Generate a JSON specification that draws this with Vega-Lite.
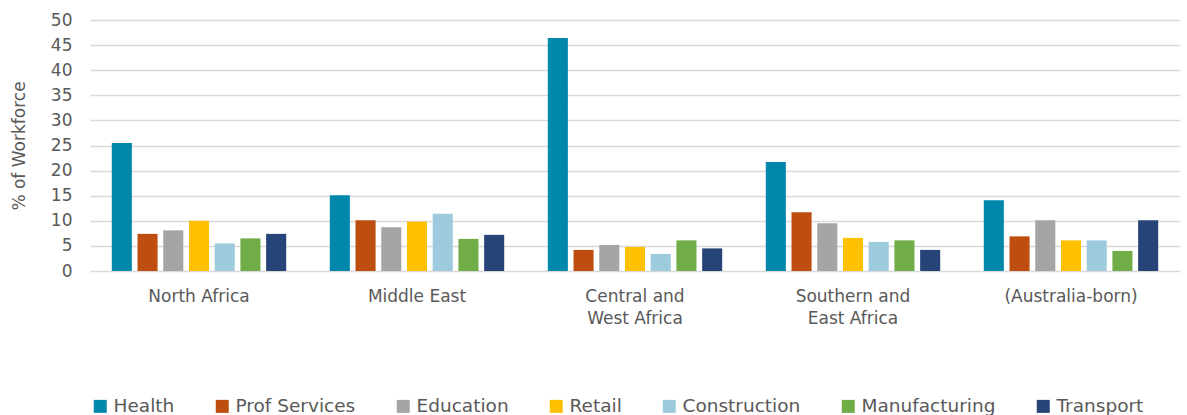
{
  "$schema": "https://vega.github.io/schema/vega-lite/v6.json",
  "width": 1090,
  "height": 251,
  "autosize": {"type": "none"},
  "padding": {"left": 90, "top": 20, "right": 7, "bottom": 144},
  "background": "white",
  "config": {
    "view": {"stroke": null},
    "font": "DejaVu Sans"
  },
  "data": {
    "values": [
      {"region": "North Africa", "industry": "Health", "pct": 25.5},
      {"region": "North Africa", "industry": "Prof Services", "pct": 7.4},
      {"region": "North Africa", "industry": "Education", "pct": 8.1},
      {"region": "North Africa", "industry": "Retail", "pct": 10.0},
      {"region": "North Africa", "industry": "Construction", "pct": 5.5},
      {"region": "North Africa", "industry": "Manufacturing", "pct": 6.5},
      {"region": "North Africa", "industry": "Transport", "pct": 7.4},
      {"region": "Middle East", "industry": "Health", "pct": 15.1},
      {"region": "Middle East", "industry": "Prof Services", "pct": 10.1},
      {"region": "Middle East", "industry": "Education", "pct": 8.7},
      {"region": "Middle East", "industry": "Retail", "pct": 9.8},
      {"region": "Middle East", "industry": "Construction", "pct": 11.4},
      {"region": "Middle East", "industry": "Manufacturing", "pct": 6.4},
      {"region": "Middle East", "industry": "Transport", "pct": 7.2},
      {"region": "Central and West Africa", "industry": "Health", "pct": 46.4},
      {"region": "Central and West Africa", "industry": "Prof Services", "pct": 4.2},
      {"region": "Central and West Africa", "industry": "Education", "pct": 5.2},
      {"region": "Central and West Africa", "industry": "Retail", "pct": 4.8},
      {"region": "Central and West Africa", "industry": "Construction", "pct": 3.4},
      {"region": "Central and West Africa", "industry": "Manufacturing", "pct": 6.1},
      {"region": "Central and West Africa", "industry": "Transport", "pct": 4.5},
      {"region": "Southern and East Africa", "industry": "Health", "pct": 21.7},
      {"region": "Southern and East Africa", "industry": "Prof Services", "pct": 11.7},
      {"region": "Southern and East Africa", "industry": "Education", "pct": 9.5},
      {"region": "Southern and East Africa", "industry": "Retail", "pct": 6.6},
      {"region": "Southern and East Africa", "industry": "Construction", "pct": 5.8},
      {"region": "Southern and East Africa", "industry": "Manufacturing", "pct": 6.1},
      {"region": "Southern and East Africa", "industry": "Transport", "pct": 4.2},
      {"region": "(Australia-born)", "industry": "Health", "pct": 14.1},
      {"region": "(Australia-born)", "industry": "Prof Services", "pct": 6.9},
      {"region": "(Australia-born)", "industry": "Education", "pct": 10.1},
      {"region": "(Australia-born)", "industry": "Retail", "pct": 6.1},
      {"region": "(Australia-born)", "industry": "Construction", "pct": 6.1},
      {"region": "(Australia-born)", "industry": "Manufacturing", "pct": 4.0},
      {"region": "(Australia-born)", "industry": "Transport", "pct": 10.1}
    ]
  },
  "mark": {"type": "bar"},
  "encoding": {
    "x": {
      "field": "region",
      "type": "nominal",
      "sort": ["North Africa", "Middle East", "Central and West Africa", "Southern and East Africa", "(Australia-born)"],
      "scale": {"paddingInner": 0.2, "paddingOuter": 0.1},
      "axis": {
        "title": null,
        "labelAngle": 0,
        "domain": false,
        "ticks": false,
        "labelPadding": 17,
        "labelFont": "DejaVu Sans",
        "labelFontSize": 17,
        "labelColor": "#595959",
        "labelLineHeight": 22,
        "labelBaseline": "top",
        "labelExpr": "datum.label == 'Central and West Africa' ? ['Central and', 'West Africa'] : datum.label == 'Southern and East Africa' ? ['Southern and', 'East Africa'] : datum.label"
      }
    },
    "xOffset": {
      "field": "industry",
      "type": "nominal",
      "sort": ["Health", "Prof Services", "Education", "Retail", "Construction", "Manufacturing", "Transport"],
      "scale": {"paddingInner": 0.22, "paddingOuter": 0}
    },
    "y": {
      "field": "pct",
      "type": "quantitative",
      "scale": {"domain": [0, 50]},
      "axis": {
        "title": "% of Workforce",
        "titleFont": "DejaVu Sans",
        "titleFontSize": 17,
        "titleFontWeight": "normal",
        "titleColor": "#595959",
        "titlePadding": 22,
        "values": [0, 5, 10, 15, 20, 25, 30, 35, 40, 45, 50],
        "domain": false,
        "ticks": false,
        "labelPadding": 18,
        "labelFont": "DejaVu Sans",
        "labelFontSize": 17,
        "labelColor": "#595959",
        "gridColor": "#D9D9D9",
        "gridWidth": 1.5
      }
    },
    "color": {
      "field": "industry",
      "type": "nominal",
      "sort": ["Health", "Prof Services", "Education", "Retail", "Construction", "Manufacturing", "Transport"],
      "scale": {
        "domain": ["Health", "Prof Services", "Education", "Retail", "Construction", "Manufacturing", "Transport"],
        "range": ["#0087AC", "#BE4E0F", "#A5A5A5", "#FFC000", "#9DCBDD", "#70AD47", "#264478"]
      },
      "legend": {
        "title": null,
        "orient": "none",
        "direction": "horizontal",
        "legendX": 1,
        "legendY": 377,
        "symbolType": "square",
        "symbolSize": 169,
        "symbolStrokeWidth": 0,
        "labelFont": "DejaVu Sans",
        "labelFontSize": 18.5,
        "labelColor": "#595959",
        "labelOffset": 4,
        "columnPadding": 38,
        "labelLimit": 300
      }
    }
  }
}
